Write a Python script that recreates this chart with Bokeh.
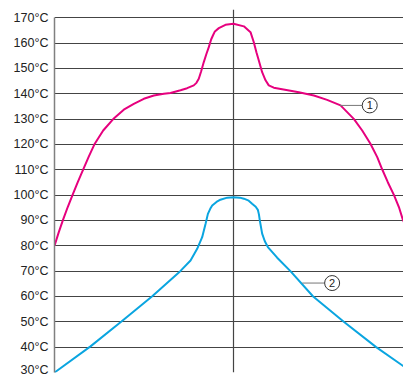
from bokeh.plotting import figure
from bokeh.models import Range1d, FixedTicker
from bokeh.core.properties import value
from bokeh.embed import file_html
from bokeh.resources import INLINE

# y tick values (°C)
ticks = [30, 40, 50, 60, 70, 80, 90, 100, 110, 120, 130, 140, 150, 160, 170]

# Curve 1 (magenta): position (relative units, centre = 0) vs temperature
x1 = [-10.0, -9.76, -9.52, -9.26, -8.99, -8.70, -8.40, -8.08, -7.75, -7.28, -6.72,
      -6.13, -5.57, -5.01, -4.45, -3.89, -3.52, -2.96, -2.59, -2.22, -2.07, -1.94,
      -1.81, -1.66, -1.51, -1.38, -1.25, -1.15, -1.04, -0.82, -0.45, 0.0,
      0.58, 0.95, 1.13, 1.28, 1.41, 1.60, 1.79, 1.97, 2.25, 3.65, 4.49, 5.23,
      5.98, 6.72, 7.19, 7.65, 8.03, 8.31, 8.62, 8.96, 9.24, 9.46, 9.76, 10.0]
t1 = [80, 85.4, 90.3, 95.3, 100.1, 105.1, 110.1, 115.3, 120.3, 125.5, 130,
      133.7, 136.0, 138.0, 139.3, 140.0, 140.3, 141.4, 142.2, 143.3, 144.3, 145.9,
      148.8, 152.5, 155.8, 158.4, 161.4, 163.0, 164.6, 165.9, 167.2, 167.6,
      166.6, 164.3, 160.4, 156.4, 153.2, 148.5, 145.3, 143.3, 142.4, 140.6, 139.3, 137.6,
      135.4, 130.1, 125.5, 120.3, 115.0, 110.1, 105.1, 100.1, 95.3, 90.3, 85.4, 80]

# Curve 2 (cyan)
x2 = [-10.0, -7.99, -6.26, -4.54, -2.96, -2.40, -2.03, -1.75, -1.56, -1.43, -1.30,
      -1.19, -0.95, -0.73, -0.35, 0.0,
      0.35, 0.58, 0.85, 1.04, 1.24, 1.36, 1.42, 1.47, 1.60, 1.75, 1.92, 2.44, 3.18,
      4.45, 6.16, 7.97, 10.0]
t2 = [30, 40.3, 50.1, 60.1, 70.1, 74.2, 78.8, 83.4, 88.7, 92.6, 94.6,
      95.9, 97.3, 98.2, 99.0, 99.2,
      99.0, 98.6, 97.8, 96.6, 95.4, 94.2, 92.4, 90, 84.8, 81.8, 79.5, 75.3, 70,
      60, 50, 40, 30]

labels = ["1", "2"]

p = figure(width=403, height=376, output_backend="svg", toolbar_location=None,
           x_range=Range1d(-10, 9.497), y_range=Range1d(30, 173.25),
           x_axis_location=None,
           min_border_left=54, min_border_right=0, min_border_top=9, min_border_bottom=4)
p.outline_line_color = None
p.background_fill_color = "white"
p.border_fill_color = "white"

ax = p.yaxis[0]
ax.ticker = FixedTicker(ticks=ticks)
ax.major_label_overrides = {t: f"{t}°C" for t in ticks}
ax.bounds = (30, 170)
ax.axis_line_color = "#808080"
ax.axis_line_width = 1.5
ax.major_tick_line_color = None
ax.minor_tick_line_color = None
ax.major_tick_in = 0
ax.major_tick_out = 0
ax.major_label_standoff = 6
ax.major_label_text_font = "Liberation Sans"
ax.major_label_text_font_size = "12.5px"
ax.major_label_text_color = "#222222"

p.xgrid.visible = False
p.ygrid.grid_line_color = "#444444"
p.ygrid.grid_line_width = 1

# centre vertical line
p.segment(x0=[0], y0=[30], x1=[0], y1=[173.25], line_color="#444444", line_width=1.2)

p.line(x1, t1, line_color="#E6007E", line_width=2)
p.line(x2, t2, line_color="#0AA5E0", line_width=2)

# callout markers
p.segment(x0=[5.94, 3.84], y0=[135.4, 65.3], x1=[7.19, 5.10], y1=[135.4, 65.3],
          line_color="#777777", line_width=1)
p.scatter(x=[7.61, 5.51], y=[135.4, 65.3], size=15, fill_color="white",
          line_color="#333333", line_width=1)
p.text(x=[7.61, 5.51], y=[135.4, 65.3], text=labels, text_align="center",
       text_baseline="middle", text_font=value("Liberation Sans"),
       text_font_size="11px", text_color="#222222")

open("out.html", "w").write(file_html(p, INLINE))
